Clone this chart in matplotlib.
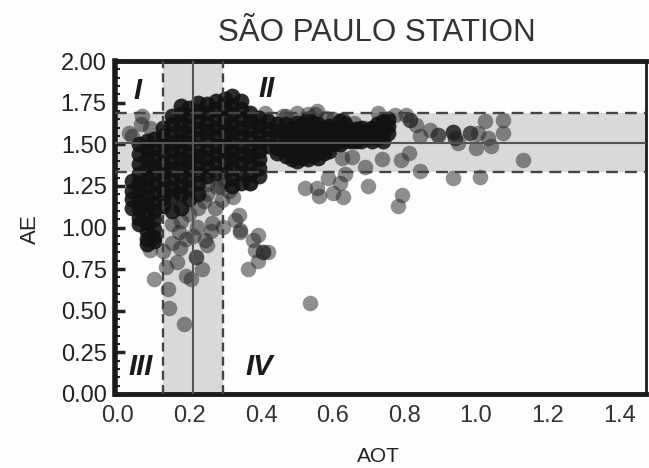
#!/usr/bin/env python3

import matplotlib
matplotlib.use('Agg')

import matplotlib.pyplot as plt
from matplotlib.ticker import MultipleLocator

plt.rcParams['font.family'] = ['Liberation Sans', 'DejaVu Sans']

TITLE = 'SÃO PAULO STATION'

# statistics lines: mean and +/- one sigma
aot_mean, aot_low, aot_high = 0.21, 0.125, 0.293
ae_mean, ae_low, ae_high = 1.51, 1.335, 1.685

x_ticks = [0.0, 0.2, 0.4, 0.6, 0.8, 1.0, 1.2, 1.4]
y_ticks = [0.0, 0.25, 0.5, 0.75, 1.0, 1.25, 1.5, 1.75, 2.0]

# dense part of the cloud, read column by column
cloud_aot = [0.04, 0.06, 0.08, 0.10, 0.125, 0.15, 0.175, 0.20, 0.225, 0.25,
             0.275, 0.30, 0.32, 0.345, 0.37, 0.395, 0.42, 0.445, 0.47, 0.50,
             0.53, 0.56, 0.59, 0.62, 0.65, 0.68, 0.71, 0.74, 0.755,
             0.485, 0.515, 0.545, 0.575, 0.605, 0.635, 0.665, 0.695, 0.725]
cloud_ae = [
    [1.28, 1.22, 1.17, 1.12],
    [1.50, 1.44, 1.38, 1.32, 1.27, 1.22, 1.16, 1.11, 1.06, 1.02],
    [1.52, 1.47, 1.41, 1.36, 1.30, 1.25, 1.19, 1.14, 1.08, 1.03, 0.98, 0.93, 0.90],
    [1.53, 1.48, 1.42, 1.37, 1.32, 1.26, 1.21, 1.15, 1.10, 1.05, 0.99, 0.94, 0.92],
    [1.60, 1.55, 1.50, 1.45, 1.39, 1.34, 1.29, 1.23, 1.18, 1.13],
    [1.67, 1.62, 1.56, 1.51, 1.46, 1.40, 1.35, 1.30, 1.24, 1.19, 1.10],
    [1.73, 1.68, 1.62, 1.57, 1.52, 1.46, 1.41, 1.36, 1.31, 1.25, 1.20, 1.12],
    [1.72, 1.67, 1.61, 1.56, 1.51, 1.45, 1.40, 1.35, 1.29, 1.24, 1.17],
    [1.75, 1.70, 1.64, 1.59, 1.54, 1.48, 1.43, 1.38, 1.32, 1.27, 1.20],
    [1.74, 1.69, 1.63, 1.58, 1.53, 1.47, 1.42, 1.37, 1.31],
    [1.76, 1.71, 1.65, 1.60, 1.55, 1.49, 1.44, 1.39, 1.33],
    [1.77, 1.72, 1.66, 1.61, 1.56, 1.50, 1.45, 1.40, 1.34],
    [1.79, 1.73, 1.68, 1.62, 1.57, 1.52, 1.46, 1.41, 1.36, 1.30, 1.25],
    [1.76, 1.71, 1.65, 1.60, 1.55, 1.49, 1.44, 1.39, 1.33, 1.27],
    [1.69, 1.64, 1.59, 1.54, 1.48, 1.43, 1.38, 1.32, 1.27],
    [1.66, 1.61, 1.56, 1.51, 1.46, 1.41, 1.36, 1.31],
    [1.64, 1.59, 1.54, 1.49],
    [1.62, 1.58, 1.53, 1.48, 1.45],
    [1.62, 1.57, 1.52, 1.47, 1.43],
    [1.63, 1.58, 1.53, 1.48, 1.43, 1.40],
    [1.65, 1.60, 1.55, 1.50, 1.45, 1.41],
    [1.62, 1.57, 1.52, 1.47, 1.42],
    [1.61, 1.56, 1.51, 1.46],
    [1.64, 1.58, 1.53, 1.50],
    [1.58, 1.55, 1.52],
    [1.60, 1.56, 1.52],
    [1.60, 1.56, 1.52],
    [1.64, 1.60, 1.56, 1.52],
    [1.65, 1.61, 1.57],
    [1.60, 1.55, 1.50, 1.45, 1.41],
    [1.62, 1.57, 1.52, 1.47, 1.42],
    [1.63, 1.58, 1.53, 1.48, 1.43],
    [1.60, 1.55, 1.50, 1.45],
    [1.59, 1.54, 1.50],
    [1.62, 1.56, 1.52],
    [1.59, 1.55, 1.52],
    [1.58, 1.54],
    [1.62, 1.58, 1.54],
]

# loose points around the cloud
loose_aot = [0.727, 0.774, 0.806, 0.816, 0.816, 0.834, 0.844, 0.872, 0.895, 0.895,
             0.936, 0.936, 0.936, 0.941, 0.941, 0.95, 0.983, 0.983, 1.006, 1.034,
             0.999, 1.042, 1.025, 1.075, 1.077, 1.131, 0.845, 0.937, 1.01, 0.738,
             0.792, 0.814, 0.69, 0.634, 0.699, 0.794, 0.783, 0.524, 0.555, 0.562,
             0.601, 0.629, 0.62, 0.587, 0.625, 0.654, 0.629, 0.629, 0.69, 0.55,
             0.41, 0.46, 0.556,
             0.101, 0.141, 0.143, 0.185, 0.538, 0.134, 0.166, 0.125, 0.089, 0.19,
             0.203, 0.234, 0.217, 0.217, 0.173, 0.15, 0.248, 0.364, 0.392, 0.383,
             0.406, 0.406, 0.42, 0.378, 0.392, 0.341, 0.339, 0.341, 0.327, 0.293,
             0.262, 0.243, 0.22, 0.369, 0.321, 0.29, 0.276,
             0.04, 0.067, 0.065, 0.03, 0.09, 0.17, 0.21, 0.26, 0.19,
             0.25, 0.25, 0.30, 0.225, 0.20, 0.175, 0.15, 0.27, 0.31, 0.24, 0.285,
             0.47, 0.50, 0.53, 0.58, 0.60, 0.66]
loose_ae = [1.685, 1.676, 1.676, 1.645, 1.645, 1.615, 1.55, 1.586, 1.556, 1.556,
            1.575, 1.575, 1.575, 1.537, 1.537, 1.507, 1.567, 1.567, 1.567, 1.537,
            1.479, 1.491, 1.641, 1.645, 1.567, 1.405, 1.341, 1.299, 1.303, 1.409,
            1.405, 1.449, 1.365, 1.321, 1.251, 1.193, 1.131, 1.239, 1.237, 1.189,
            1.207, 1.185, 1.267, 1.297, 1.417, 1.423, 1.645, 1.645, 1.6, 1.68,
            1.69, 1.67, 1.70,
            0.691, 0.629, 0.514, 0.42, 0.545, 0.765, 0.795, 0.859, 0.865, 0.709,
            0.689, 0.749, 0.825, 0.825, 0.877, 0.907, 0.895, 0.751, 0.801, 0.865,
            0.851, 0.851, 0.855, 0.925, 0.955, 0.975, 1.075, 0.985, 1.045, 1.005,
            1.027, 0.925, 1.005, 1.267, 1.185, 1.165, 1.245,
            1.55, 1.67, 1.62, 1.57, 1.60, 0.97, 0.95, 0.98, 0.93,
            1.26, 1.20, 1.28, 1.12, 1.08, 1.04, 1.02, 1.12, 1.22, 1.16, 1.25,
            1.67, 1.69, 1.68, 1.66, 1.65, 1.63]


def main():
    fig = plt.figure(figsize=(6.49, 4.68), dpi=100, facecolor='#fdfdfd')
    ax = fig.add_axes([115 / 649, 1 - 394 / 468, (646 - 115) / 649, (394 - 61) / 468])

    ax.set_xlim(-0.008, 1.475)
    ax.set_ylim(0, 2)
    ax.set_facecolor('#fdfdfd')

    ax.axvspan(aot_low, aot_high, color='#d9d9d9', lw=0, zorder=1)
    ax.axhspan(ae_low, ae_high, color='#d9d9d9', lw=0, zorder=1)

    x, y = [], []
    for a, col in zip(cloud_aot, cloud_ae):
        x += [a] * len(col)
        y += col
    ax.scatter(loose_aot, loose_ae, s=125, c='#222222', alpha=0.5, linewidths=0, zorder=2)
    ax.scatter(x, y, s=130, c='#111111', alpha=0.88, linewidths=0, zorder=2)

    for v in (aot_low, aot_high):
        ax.axvline(v, color='#444444', lw=1.7, ls=(0, (3.8, 2.2)), zorder=3)
    for v in (ae_low, ae_high):
        ax.axhline(v, color='#444444', lw=1.7, ls=(0, (5, 3)), zorder=3)
    ax.axvline(aot_mean, color='#555555', lw=1.5, zorder=3)
    ax.axhline(ae_mean, color='#555555', lw=1.5, zorder=3)

    ax.set_xticks(x_ticks)
    ax.set_yticks(y_ticks)
    ax.set_xticklabels(['%.1f' % v for v in x_ticks])
    ax.set_yticklabels(['%.2f' % v for v in y_ticks])
    ax.yaxis.set_minor_locator(MultipleLocator(0.05))
    ax.tick_params(axis='y', which='major', direction='in', length=7, width=2.5,
                   labelsize=17, pad=6, colors='#222222')
    ax.tick_params(axis='y', which='minor', direction='in', length=3.5, width=1.5,
                   color='#222222')
    ax.tick_params(axis='x', which='major', direction='in', length=0,
                   labelsize=17, pad=8, colors='#333333')

    ax.spines['top'].set_linewidth(3.5)
    ax.spines['left'].set_linewidth(4.0)
    ax.spines['bottom'].set_linewidth(3.5)
    ax.spines['right'].set_linewidth(2.0)
    for s in ax.spines.values():
        s.set_color('#1a1a1a')

    for label, lx, ly in (('I', 0.056, 1.82), ('II', 0.416, 1.83),
                          ('III', 0.064, 0.16), ('IV', 0.394, 0.16)):
        ax.text(lx, ly, label, fontsize=21, fontweight='bold', style='italic',
                ha='center', va='center', color='#1a1a1a', zorder=4)

    fig.text(377 / 649, 1 - 33 / 468, TITLE, fontsize=22.5, ha='center', va='center',
             color='#333333')
    fig.text(378 / 649, 1 - 456 / 468, 'AOT', fontsize=15, ha='center', va='center',
             color='#222222')
    fig.text(30 / 649, 1 - 229 / 468, 'AE', fontsize=16, rotation=90, ha='center',
             va='center', color='#222222')

    fig.savefig('out.png', dpi=100, facecolor=fig.get_facecolor())


if __name__ == '__main__':
    main()
